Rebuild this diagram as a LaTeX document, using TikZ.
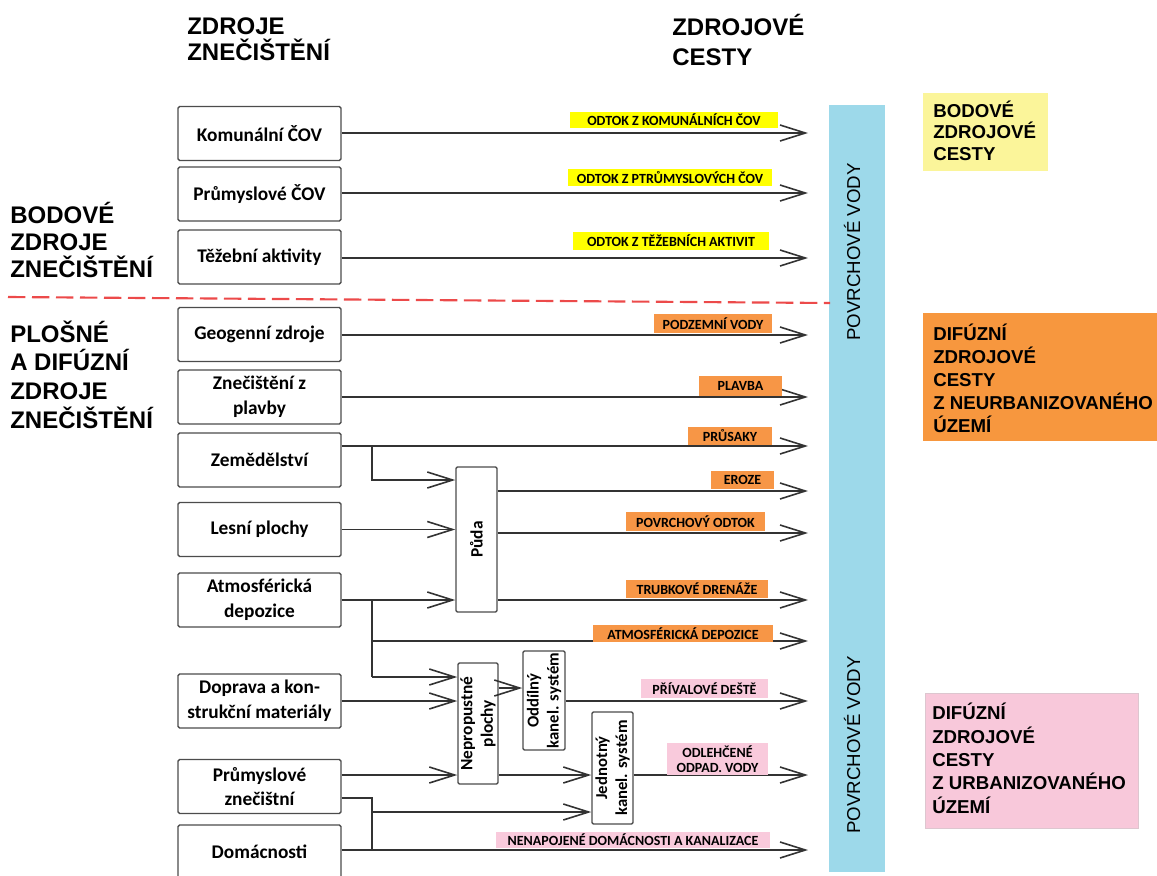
\documentclass[tikz,border=0pt]{standalone}
\usepackage{fontspec}
\setmainfont{Carlito}
\newfontfamily\headfont{Liberation Sans}
\usepackage{xcolor}
\usetikzlibrary{arrows.meta,calc,positioning}

\definecolor{labyel}{HTML}{FFFF00}
\definecolor{labora}{HTML}{F79646}
\definecolor{labpink}{HTML}{F9CADC}
\definecolor{legyel}{HTML}{FBF59A}
\definecolor{legora}{HTML}{F7973E}
\definecolor{legpink}{HTML}{F8C8DA}
\definecolor{barblue}{HTML}{9DD9EA}
\definecolor{sepred}{HTML}{EC4A4A}

\tikzset{
  srcbox/.style={draw=black!70, line width=1.1pt, rounded corners=1.2pt, fill=white,
    minimum width=122.25pt, minimum height=40.5pt, inner sep=1pt, align=center,
    font=\bfseries\fontsize{14.5}{18.5}\selectfont},
  midbox/.style={draw=black!70, line width=1.1pt, rounded corners=1pt, fill=white, inner sep=0pt},
  midtext/.style={rotate=90, align=center, inner sep=0pt, font=\bfseries\fontsize{13}{15.5}\selectfont},
  link/.style={draw=black!80, line width=1.2pt},
  flow/.style={link, -{Straight Barb[length=19pt,width=12pt]}},
  tag/.style={inner sep=0pt, minimum height=13.5pt, font=\bfseries\fontsize{10.5}{11.5}\selectfont},
  head/.style={anchor=base west, inner sep=0pt, align=left, font=\headfont\bfseries\fontsize{18}{20}\selectfont},
  legtext/.style={anchor=base west, inner sep=0pt, align=left, font=\headfont\bfseries\fontsize{14}{17.25}\selectfont},
  bartext/.style={rotate=90, inner sep=0pt, font=\headfont\fontsize{14}{16}\selectfont}
}

\begin{document}
\begin{tikzpicture}[x=0.75pt,y=0.75pt,yscale=-1,xscale=1]
\useasboundingbox (0,0) rectangle (1157,875);
\clip (0,0) rectangle (1157,875);

%Shape: Rectangle (surface waters)
\node[fill=barblue, minimum width=42pt, minimum height=575.25pt, inner sep=0pt] (bar) at (857,488.5) {};
\node[bartext] (barup) at (852,252) {POVRCHOVÉ VODY};
\node[bartext] (bardown) at (852,745) {POVRCHOVÉ VODY};

%Shape: Rectangle (legend)
% text nodes sit on the baseline of their last line
\node[fill=legyel, minimum width=93.75pt, minimum height=58.5pt, inner sep=0pt] (legbod) at (985.5,132) {};
\node[legtext, font=\headfont\bfseries\fontsize{14}{16}\selectfont] (legbodtext) at (933,160) {BODOVÉ\\ZDROJOVÉ\\CESTY};
\node[fill=legora, minimum width=185.25pt, minimum height=96pt, inner sep=0pt] (legneu) at (1046.5,377) {};
\node[legtext] (legneutext) at (933,432) {DIFÚZNÍ\\ZDROJOVÉ\\CESTY\\Z NEURBANIZOVANÉHO\\ÚZEMÍ};
\node[fill=legpink, draw=legpink!80!black!60, line width=0.4pt, minimum width=159.75pt, minimum height=101.25pt, inner sep=0pt] (legurb) at (1031.5,760.5) {};
\node[legtext, font=\headfont\bfseries\fontsize{14}{17.5}\selectfont] (legurbtext) at (932,813) {DIFÚZNÍ\\ZDROJOVÉ\\CESTY\\Z URBANIZOVANÉHO\\ÚZEMÍ};

% Text Node
\node[head, font=\headfont\bfseries\fontsize{18}{19}\selectfont] (hsrc) at (187,60) {ZDROJE\\ZNEČIŠTĚNÍ};
\node[head, font=\headfont\bfseries\fontsize{18}{22}\selectfont] (hpath) at (672,65) {ZDROJOVÉ\\CESTY};
\node[head] (hpoint) at (10,277) {BODOVÉ\\ZDROJE\\ZNEČIŠTĚNÍ};
\node[head, font=\headfont\bfseries\fontsize{18}{21.5}\selectfont] (hdiff) at (10,428) {PLOŠNÉ\\A DIFÚZNÍ\\ZDROJE\\ZNEČIŠTĚNÍ};

%Straight Lines (separator)
\draw[sepred, line width=1.6pt, dash pattern=on 13pt off 5pt] (8,297) -- (830,303);

%Shape: Rectangle (sources)
\node[srcbox] (kom) at (259.5,133.5) {Komunální ČOV};
\node[srcbox] (prc) at (259.5,194) {Průmyslové ČOV};
\node[srcbox] (tez) at (259.5,257) {Těžební aktivity};
\node[srcbox] (geo) at (259.5,334.5) {Geogenní zdroje};
\node[srcbox] (plav) at (259.5,397) {Znečištění z\\plavby};
\node[srcbox] (zem) at (259.5,460) {Zemědělství};
\node[srcbox] (les) at (259.5,529.5) {Lesní plochy};
\node[srcbox] (atm) at (259.5,600) {Atmosférická\\depozice};
\node[srcbox] (dop) at (259.5,701) {Doprava a kon-\\strukční materiály};
\node[srcbox] (pzn) at (259.5,786.5) {Průmyslové\\znečištní};
\node[srcbox] (dom) at (259.5,852) {Domácnosti};

%Shape: Rectangle (intermediate)
\node[midbox, minimum width=30.75pt, minimum height=108.75pt] (puda) at (476.5,539.5) {};
\node[midtext] (pudatext) at (puda) {Půda};
\node[midbox, minimum width=30pt, minimum height=90.75pt] (nep) at (478,723.5) {};
\node[midtext] (neptext) at (nep) {Nepropustné\\plochy};
\node[midbox, minimum width=31.5pt, minimum height=74.25pt] (odd) at (544,700.5) {};
\node[midtext, font=\bfseries\fontsize{12.5}{15}\selectfont] (oddtext) at (odd) {Oddílný\\kanel. systém};
\node[midbox, minimum width=30.75pt, minimum height=84pt] (jed) at (612.5,768) {};
\node[midtext, font=\bfseries\fontsize{12.5}{15}\selectfont] (jedtext) at (jed) {Jednotný\\kanel. systém};

% ends of the pathways
\coordinate (t1) at (808,133);
\coordinate (t2) at (808,193);
\coordinate (t3) at (808,258);
\coordinate (t4) at (808,335);
\coordinate (t5) at (808,397);
\coordinate (t6) at (808,446);
\coordinate (t7) at (808,491);
\coordinate (t8) at (808,533);
\coordinate (t9) at (808,600);
\coordinate (t10) at (808,641);
\coordinate (t11) at (808,701);
\coordinate (t12) at (808,775);
\coordinate (t13) at (808,850);
% branch points
\coordinate (zb) at (372,446);
\coordinate (zk) at (372,480);
\coordinate (ab) at (372,600);
\coordinate (ak) at (372,677);
\coordinate (pb) at (372,798);
\coordinate (jk) at (372,812);
\coordinate (o1) at (498,688);

%Straight Lines
\draw[flow] (kom.east |- t1) -- (t1);
\draw[flow] (prc.east |- t2) -- (t2);
\draw[flow] (tez.east |- t3) -- (t3);
\draw[flow] (geo.east |- t4) -- (t4);
\draw[flow] (plav.east |- t5) -- (t5);
\draw[flow] (zem.east |- t6) -- (t6);
\draw[flow] (zb) -- (zk) -- (puda.west |- zk);
\draw[flow] (les.east) -- (les.east -| puda.west);
\draw[flow] (atm.east |- ab) -- (puda.west |- ab);
\draw[link] (ab) -- (ak);
\draw[flow] (ab |- t10) -- (t10);
\draw[flow] (ak) -- (nep.west |- ak);
\draw[flow] (puda.east |- t7) -- (t7);
\draw[flow] (puda.east |- t8) -- (t8);
\draw[flow] (puda.east |- t9) -- (t9);
\draw[flow] (dop.east) -- (dop.east -| nep.west);
\draw[flow] (pzn.east |- t12) -- (nep.west |- t12);
\draw[flow] (nep.east |- o1) -- (odd.west |- o1);
\draw[flow] (odd.east |- t11) -- (t11);
\draw[flow] (nep.east |- t12) -- (jed.west |- t12);
\draw[flow] (jed.east |- t12) -- (t12);
\draw[link] (pzn.east |- pb) -- (pb) -- (pb |- t13);
\draw[flow] (jk) -- (jed.west |- jk);
\draw[flow] (dom.east |- t13) -- (t13);

% Text Node (pathway labels)
\node[tag, fill=labyel, minimum width=156pt, minimum height=12pt] (lkom) at (674,120) {ODTOK Z KOMUNÁLNÍCH ČOV};
\node[tag, fill=labyel, minimum width=153pt, minimum height=12.75pt] (lprc) at (670,177.5) {ODTOK Z PTRŮMYSLOVÝCH ČOV};
\node[tag, fill=labyel, minimum width=147pt] (ltez) at (671,241) {ODTOK Z TĚŽEBNÍCH AKTIVIT};
\node[tag, fill=labora, minimum width=88.5pt, minimum height=14.25pt] (lgeo) at (713,323.5) {PODZEMNÍ VODY};
\node[tag, fill=labora, minimum width=62.25pt, minimum height=15pt] (lplav) at (740.5,386) {PLAVBA};
\node[tag, fill=labora, minimum width=63pt] (lpru) at (730,436) {PRŮSAKY};
\node[tag, fill=labora, minimum width=47.25pt] (lero) at (742.5,480) {EROZE};
\node[tag, fill=labora, minimum width=104.25pt, minimum height=14.25pt] (lodt) at (695.5,521.5) {POVRCHOVÝ ODTOK};
\node[tag, fill=labora, minimum width=106.5pt] (ldre) at (697,589) {TRUBKOVÉ DRENÁŽE};
\node[tag, fill=labora, minimum width=135pt, minimum height=12.75pt] (latm) at (683,633.5) {ATMOSFÉRICKÁ DEPOZICE};
\node[tag, fill=labpink, minimum width=95.25pt, minimum height=14.25pt] (lpri) at (704.5,688.5) {PŘÍVALOVÉ DEŠTĚ};
\node[tag, fill=labpink, minimum width=75.75pt, minimum height=24pt, align=center] (lodl) at (717.5,759) {ODLEHČENÉ\\ODPAD. VODY};
\node[tag, fill=labpink, minimum width=205.5pt, minimum height=12pt] (lnen) at (633,840) {NENAPOJENÉ DOMÁCNOSTI A KANALIZACE};

\end{tikzpicture}
\end{document}
